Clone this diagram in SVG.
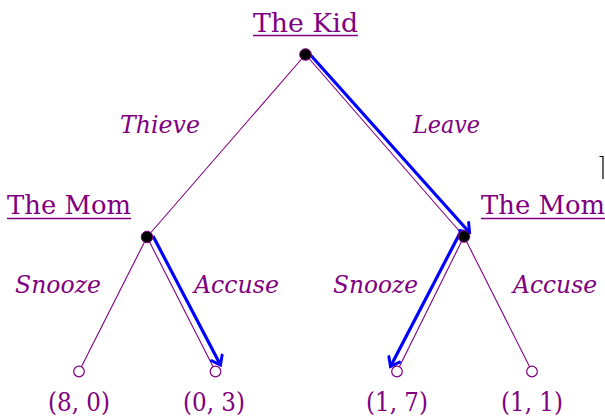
<svg xmlns="http://www.w3.org/2000/svg" width="605" height="416" viewBox="0 0 605 416">
<style>
text{font-family:"DejaVu Serif","Liberation Serif","Times New Roman",serif;fill:#800080;font-size:26px}
.act{font-style:italic;font-size:25px}
.pay{font-size:26px}
.ul{stroke:#800080;stroke-width:1.3}
.edge{stroke:#800080;stroke-width:1.1;fill:none}
.best{stroke:#0000ff;stroke-width:3.2;fill:none;marker-end:url(#arr)}
.dec{fill:#000;stroke:#800080;stroke-width:1}
.leaf{fill:#fff;stroke:#800080;stroke-width:1.2}
</style>
<defs>
<marker id="arr" markerUnits="userSpaceOnUse" markerWidth="20" markerHeight="20" viewBox="-10 -10 20 20" refX="0" refY="0" orient="auto">
<path d="M-8,-6 Q-2,-1.5 0,0 Q-2,1.5 -8,6" fill="none" stroke="#0000ff" stroke-width="3" stroke-linecap="round"/>
</marker>
</defs>
<rect width="605" height="416" fill="#fff"/>
<g id="connectors">
<line class="edge" x1="305.5" y1="54.5" x2="147" y2="237"/>
<line class="edge" x1="305.5" y1="54.5" x2="464" y2="236.5"/>
<line class="edge" x1="147" y1="237" x2="79" y2="371.5"/>
<line class="edge" x1="147" y1="237" x2="215.5" y2="371.5"/>
<line class="edge" x1="464" y1="236.5" x2="397" y2="371.5"/>
<line class="edge" x1="464" y1="236.5" x2="532" y2="371.5"/>
<line class="best" x1="310.5" y1="55" x2="469.5" y2="232.5"/>
<line class="best" x1="153" y1="236" x2="220.5" y2="365"/>
<line class="best" x1="460.5" y1="232" x2="390.5" y2="366.5"/>
</g>
<g id="kid">
<circle class="dec" cx="305.5" cy="54.5" r="5.8"/>
<text x="253" y="32" textLength="105" lengthAdjust="spacingAndGlyphs">The Kid</text>
<line class="ul" x1="253" y1="35.5" x2="358" y2="35.5"/>
</g>
<g id="mom-left">
<circle class="dec" cx="147" cy="237" r="5.8"/>
<text x="7" y="214" textLength="124" lengthAdjust="spacingAndGlyphs">The Mom</text>
<line class="ul" x1="7" y1="218.5" x2="131" y2="218.5"/>
</g>
<g id="mom-right">
<circle class="dec" cx="464" cy="236.5" r="5.8"/>
<text x="481" y="214" textLength="124" lengthAdjust="spacingAndGlyphs">The Mom</text>
<line class="ul" x1="481" y1="218.5" x2="605" y2="218.5"/>
</g>
<g id="labels">
<text class="act" x="120" y="133" textLength="80" lengthAdjust="spacingAndGlyphs">Thieve</text>
<text class="act" x="413" y="133" textLength="67" lengthAdjust="spacingAndGlyphs">Leave</text>
<text class="act" x="15" y="293" textLength="86" lengthAdjust="spacingAndGlyphs">Snooze</text>
<text class="act" x="194" y="293" textLength="85" lengthAdjust="spacingAndGlyphs">Accuse</text>
<text class="act" x="333" y="293" textLength="85" lengthAdjust="spacingAndGlyphs">Snooze</text>
<text class="act" x="513" y="293" textLength="84" lengthAdjust="spacingAndGlyphs">Accuse</text>
</g>
<g id="leaf1"><circle class="leaf" cx="79" cy="371.5" r="5.3"/><text class="pay" x="48" y="411" textLength="62" lengthAdjust="spacingAndGlyphs">(8, 0)</text></g>
<g id="leaf2"><circle class="leaf" cx="215.5" cy="371.5" r="5.3"/><text class="pay" x="183" y="411" textLength="62" lengthAdjust="spacingAndGlyphs">(0, 3)</text></g>
<g id="leaf3"><circle class="leaf" cx="397" cy="371.5" r="5.3"/><text class="pay" x="366" y="411" textLength="62" lengthAdjust="spacingAndGlyphs">(1, 7)</text></g>
<g id="leaf4"><circle class="leaf" cx="532" cy="371.5" r="5.3"/><text class="pay" x="501" y="411" textLength="62" lengthAdjust="spacingAndGlyphs">(1, 1)</text></g>
<path d="M599.5,156.5 H603 V179" fill="none" stroke="#000" stroke-width="1.2"/>
</svg>
